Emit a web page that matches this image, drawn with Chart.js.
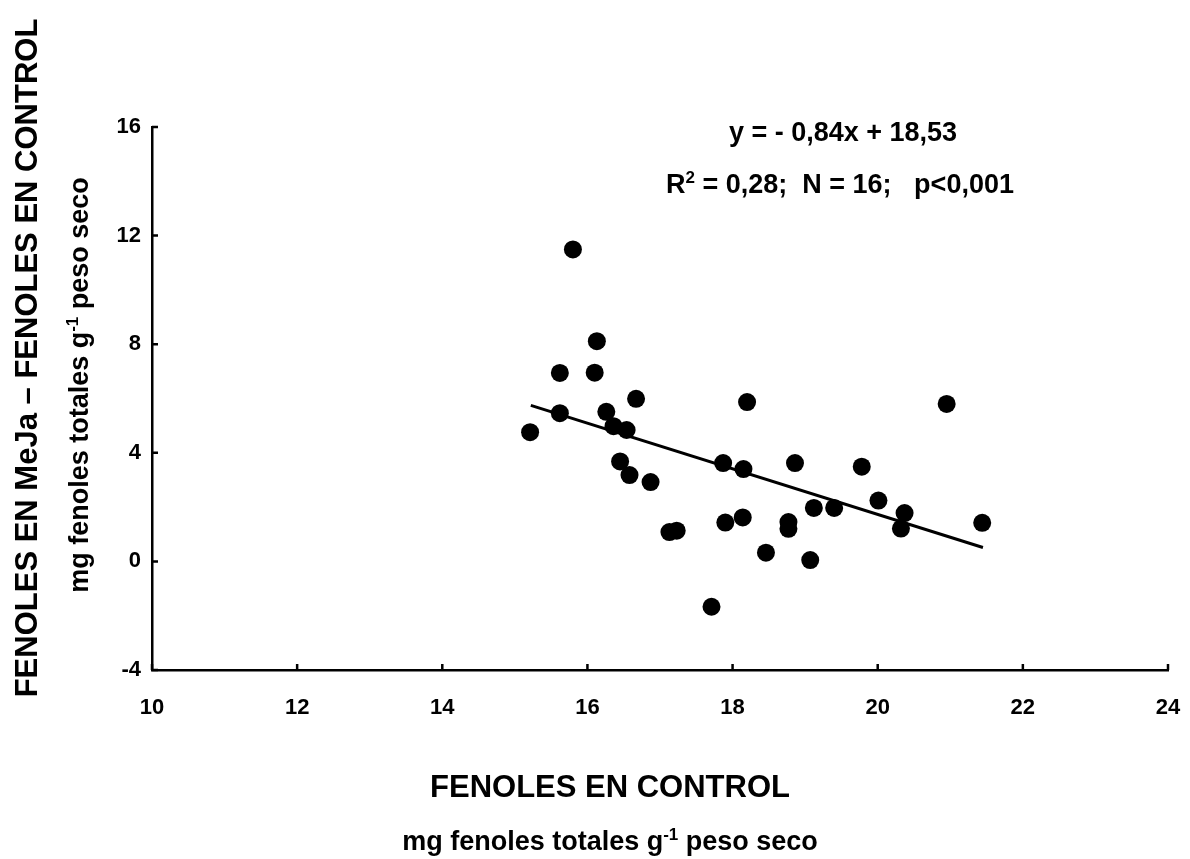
<!DOCTYPE html>
<html>
<head>
<meta charset="utf-8">
<title>Fenoles MeJa vs control</title>
<script src="https://cdn.jsdelivr.net/npm/chart.js@4/dist/chart.umd.min.js"></script>
<style>
  html, body { margin: 0; padding: 0; background: #fff; }
  #wrap { width: 1190px; height: 859px; }
</style>
</head>
<body>
<div id="wrap"><canvas id="grafico" width="1190" height="859"></canvas></div>
<script>
"use strict";
// datos
var fenolesControl = [15.21, 15.62, 15.62, 15.80, 16.13, 16.10, 16.67, 16.26, 16.36, 16.54,
    16.45, 16.58, 16.87, 17.13, 17.23, 17.71, 18.20, 17.87, 17.90, 18.15,
    18.14, 18.46, 18.77, 18.77, 18.86, 19.07, 19.12, 19.40, 19.78, 20.01,
    20.37, 20.32, 20.95, 21.44];
var fenolesDiferencia = [4.76, 6.94, 5.46, 11.49, 8.11, 6.95, 5.99, 5.51, 4.98, 4.84,
    3.68, 3.18, 2.92, 1.08, 1.13, -1.67, 5.87, 3.62, 1.43, 3.40,
    1.62, 0.32, 1.45, 1.20, 3.62, 0.05, 1.97, 1.97, 3.49, 2.24,
    1.78, 1.21, 5.80, 1.42];
// recta de regresion y = -0,84x + 18,53
var regPendiente = -0.84;
var regOrdenada = 18.53;
var regRangoX = [15.22, 21.45];
var ticksX = [10, 12, 14, 16, 18, 20, 22, 24];
var ticksY = [-4, 0, 4, 8, 12, 16];

var FUENTE = "'Liberation Sans', Arial, Helvetica, sans-serif";

var puntos = [];
for (var i = 0; i <= fenolesControl.length - 1; i++) {
    puntos.push({x: fenolesControl[i], y: fenolesDiferencia[i]});
}
var recta = regRangoX.map(function (x) {
    return {x: x, y: regPendiente * x + regOrdenada};
});

// dibuja texto con partes en superindice, centrado en x
function textoRico(ctx, partes, x, y, size) {
    var ancho = 0;
    partes.forEach(function (p) {
        ctx.font = "bold " + (p[1] ? Math.round(size * 0.62) : size) + "px " + FUENTE;
        ancho += ctx.measureText(p[0]).width;
    });
    var cx = x - ancho / 2;
    ctx.textAlign = "left";
    ctx.textBaseline = "alphabetic";
    partes.forEach(function (p) {
        ctx.font = "bold " + (p[1] ? Math.round(size * 0.62) : size) + "px " + FUENTE;
        ctx.fillText(p[0], cx, p[1] ? y - size * 0.38 : y);
        cx += ctx.measureText(p[0]).width;
    });
}

var textos = {
    id: "textos",
    afterDraw: function (chart) {
        var ctx = chart.ctx;
        var a = chart.chartArea;
        var sx = chart.scales.x, sy = chart.scales.y;
        ctx.save();
        ctx.fillStyle = "#000";
        ctx.strokeStyle = "#000";
        // marcas hacia dentro
        ctx.lineWidth = 2.5;
        ctx.beginPath();
        ticksX.forEach(function (v) {
            var px = sx.getPixelForValue(v);
            ctx.moveTo(px, a.bottom);
            ctx.lineTo(px, a.bottom - 6);
        });
        ticksY.forEach(function (v) {
            var py = sy.getPixelForValue(v);
            ctx.moveTo(a.left, py);
            ctx.lineTo(a.left + 6, py);
        });
        ctx.stroke();

        // ecuacion
        textoRico(ctx, [["y = - 0,84x + 18,53", false]], 843, 141, 27);
        textoRico(ctx, [["R", false], ["2", true], [" = 0,28;  N = 16;   p<0,001", false]], 840, 193, 27);

        // titulos eje x
        textoRico(ctx, [["FENOLES EN CONTROL", false]], 610, 797, 31);
        textoRico(ctx, [["mg fenoles totales g", false], ["-1", true], [" peso seco", false]], 610, 850, 27);

        // titulos eje y
        ctx.save();
        ctx.translate(37, 358);
        ctx.rotate(-Math.PI / 2);
        textoRico(ctx, [["FENOLES EN MeJa \u2013 FENOLES EN CONTROL", false]], 0, 0, 31);
        ctx.restore();
        ctx.save();
        ctx.translate(88, 385);
        ctx.rotate(-Math.PI / 2);
        textoRico(ctx, [["mg fenoles totales g", false], ["-1", true], [" peso seco", false]], 0, 0, 27);
        ctx.restore();
        ctx.restore();
    }
};

var ctx = document.getElementById("grafico").getContext("2d");
var grafico = new Chart(ctx, {
    type: "scatter",
    data: {
        datasets: [{
            label: "puntos",
            data: puntos,
            pointRadius: 9,
            pointHoverRadius: 9,
            backgroundColor: "#000",
            borderColor: "#000",
            borderWidth: 0
        }, {
            label: "regresion",
            type: "line",
            data: recta,
            showLine: true,
            pointRadius: 0,
            borderColor: "#000",
            borderWidth: 3,
            fill: false
        }]
    },
    options: {
        responsive: false,
        animation: false,
        devicePixelRatio: 1,
        layout: {padding: {top: 127, right: 22, left: 0, bottom: 0}},
        plugins: {
            legend: {display: false},
            title: {display: false},
            tooltip: {enabled: false}
        },
        scales: {
            x: {
                type: "linear",
                min: ticksX[0],
                max: ticksX[ticksX.length - 1],
                afterBuildTicks: function (s) {
                    s.ticks = ticksX.map(function (v) { return {value: v}; });
                },
                afterFit: function (s) {
                    s.height = 859 - 670;
                    s.paddingLeft = 0;
                    s.paddingRight = 0;
                },
                grid: {display: false, drawTicks: false},
                border: {display: true, color: "#000", width: 2.5},
                ticks: {
                    color: "#000",
                    padding: 25,
                    maxRotation: 0,
                    autoSkip: false,
                    font: {family: FUENTE, size: 22, weight: "bold"}
                }
            },
            y: {
                type: "linear",
                min: ticksY[0],
                max: ticksY[ticksY.length - 1],
                afterBuildTicks: function (s) {
                    s.ticks = ticksY.map(function (v) { return {value: v}; });
                },
                afterFit: function (s) {
                    s.width = 152;
                    s.paddingTop = 0;
                    s.paddingBottom = 0;
                },
                grid: {display: false, drawTicks: false},
                border: {display: true, color: "#000", width: 2.5},
                ticks: {
                    color: "#000",
                    padding: 11,
                    autoSkip: false,
                    font: {family: FUENTE, size: 22, weight: "bold"}
                }
            }
        }
    },
    plugins: [textos]
});
</script>
</body>
</html>
